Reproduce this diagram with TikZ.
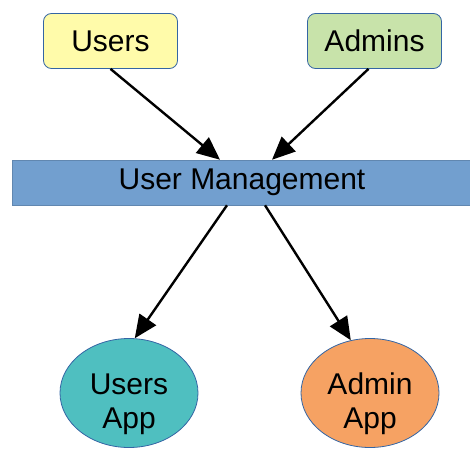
\documentclass[tikz,border=0pt]{standalone}
\usepackage{fontspec}
\setmainfont{Liberation Sans}
\usetikzlibrary{shapes.geometric,arrows.meta,calc}

\definecolor{edgeblue}{HTML}{3465A4}
\definecolor{usersfill}{HTML}{FFFBAA}
\definecolor{adminsfill}{HTML}{C8E3AA}
\definecolor{barfill}{HTML}{729FCF}
\definecolor{tealfill}{HTML}{4FBFC0}
\definecolor{orangefill}{HTML}{F6A263}

% two centred lines, set a little below the shape's middle
\newcommand{\applines}[2]{\raisebox{-18pt}[0pt][0pt]{\begin{tabular}{@{}c@{}}#1\\#2\end{tabular}}}

\tikzset{
  txt/.style={font=\fontsize{30}{34}\selectfont, text=black, inner sep=0pt},
  lbl/.style={txt, align=center},
  rolebox/.style={lbl, draw=edgeblue, line width=0.8pt, rounded corners=8pt,
                  minimum width=134pt, minimum height=55pt},
  appnode/.style={txt, ellipse, draw=edgeblue, line width=0.8pt,
                  minimum width=138pt, minimum height=109pt},
  flow/.style={line width=2.4pt, -{Triangle[length=23pt,width=20pt]}}
}

\begin{document}
\begin{tikzpicture}[x=1pt,y=1pt]
  \useasboundingbox (0,0) rectangle (470,-452);

  % sources
  \node[rolebox, fill=usersfill]  (us) at (110.5,-41) {Users};
  \node[rolebox, fill=adminsfill] (ad) at (374.5,-41) {Admins};

  % central band
  \node[lbl, fill=barfill, draw=barfill!85!black, line width=0.5pt,
        minimum width=460pt, minimum height=45pt] (um) at (242,-182.5) {User Management};

  % applications
  \node[appnode, fill=tealfill]   (ua) at (129,-393) {\applines{Users}{App}};
  \node[appnode, fill=orangefill] (aa) at (370,-393) {\applines{Admin}{App}};

  % connectors
  \draw[flow] (us.south) -- ($(um.north)+(-22,0)$);
  \draw[flow] ($(ad.south)+(-6,0)$) -- ($(um.north)+(30,0)$);
  \draw[flow] ($(um.south)+(-15,0)$) -- (ua.84);
  \draw[flow] ($(um.south)+(23,0)$) -- (aa.110);
\end{tikzpicture}
\end{document}
